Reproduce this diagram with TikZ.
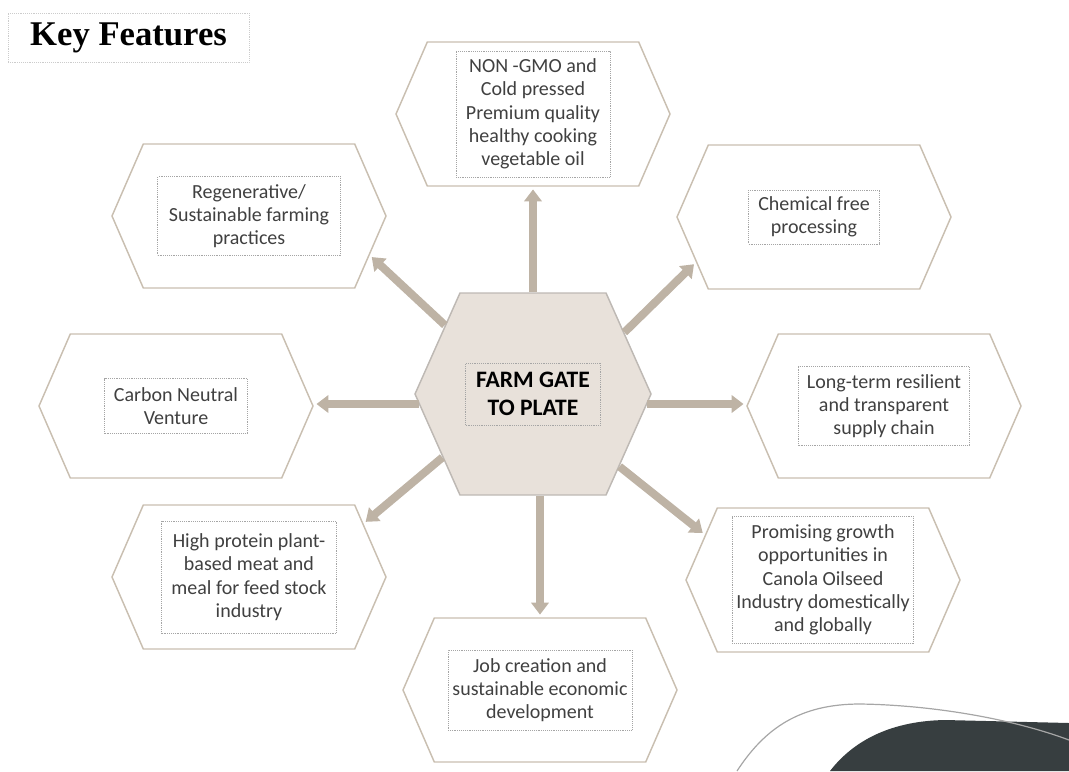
\documentclass[tikz,border=0pt]{standalone}
\usepackage{fontspec}
\setmainfont{Carlito}
\newfontfamily\titlefont{Liberation Serif}
\usetikzlibrary{shapes.symbols,arrows.meta}
\definecolor{hexline}{RGB}{201,191,177}
\definecolor{hexfill}{RGB}{232,225,218}
\definecolor{hexedge}{RGB}{190,185,180}
\definecolor{arrowtan}{RGB}{190,179,165}
\definecolor{boxdots}{RGB}{165,165,165}
\definecolor{feattext}{RGB}{64,64,64}
\definecolor{slate}{RGB}{55,62,64}

\begin{document}
\begin{tikzpicture}[x=0.75pt,y=-0.75pt,
  hexa/.style={signal,signal to=west and east,signal pointer angle=133,draw=hexline,line width=1.1pt,minimum width=205.5pt,minimum height=108pt,inner sep=0pt},
  tbox/.style={draw=boxdots,densely dotted,line width=0.4pt,align=center,inner sep=0pt,text=feattext,font=\fontsize{15}{17.5}\selectfont},
  spoke/.style={draw=arrowtan,line width=6pt,-{Triangle[width=13pt,length=9pt]},shorten >=2pt}]
\useasboundingbox (0,0) rectangle (1069,771);

\node[draw=gray!40,densely dotted,minimum width=180.75pt,minimum height=36.75pt,font=\titlefont\bfseries\fontsize{26}{30}\selectfont] (title) at (128.5,37.5) {Key Features};

\node[hexa,fill=hexfill,draw=hexedge,minimum width=177pt,minimum height=151.5pt,signal pointer angle=132] (ctr) at (533,394) {};
\node[tbox,text=black,font=\bfseries\fontsize{17.7}{21}\selectfont,minimum width=101pt,minimum height=46.5pt] (ctr-t) at (ctr) {FARM GATE\\TO PLATE};

\node[hexa] (top) at (533,114) {};
\node[tbox,minimum width=115.5pt,minimum height=94.5pt] (top-t) at (top) {NON -GMO and\\Cold pressed\\Premium quality\\healthy cooking\\vegetable oil};

\node[hexa] (reg) at (249,216) {};
\node[tbox,minimum width=137pt,minimum height=59pt] (reg-t) at (reg) {Regenerative/\\Sustainable farming\\practices};

\node[hexa] (chem) at (814,217) {};
\node[tbox,minimum width=98pt,minimum height=40.5pt] (chem-t) at (chem) {Chemical free\\processing};

\node[hexa] (carb) at (176,406) {};
\node[tbox,minimum width=107pt,minimum height=41pt] (carb-t) at (carb) {Carbon Neutral\\Venture};

\node[hexa] (long) at (884,406) {};
\node[tbox,minimum width=128pt,minimum height=59pt] (long-t) at (long) {Long-term resilient\\and transparent\\supply chain};

\node[hexa] (prot) at (249,577) {};
\node[tbox,minimum width=131pt,minimum height=84pt] (prot-t) at (prot) {High protein plant-\\based meat and\\meal for feed stock\\industry};

\node[hexa] (prom) at (823,580) {};
\node[tbox,minimum width=136pt,minimum height=95pt] (prom-t) at (prom) {Promising growth\\opportunities in\\Canola Oilseed\\Industry domestically\\and globally};

\node[hexa] (job) at (540,690) {};
\node[tbox,minimum width=138pt,minimum height=60pt] (job-t) at (job) {Job creation and\\sustainable economic\\development};

\draw[spoke] (ctr.north -| top) -- (top.south);
\draw[spoke] (ctr.142) -- (reg.-18);
\draw[spoke] (ctr.34) -- (chem.-159);
\draw[spoke] (ctr.185) -- (ctr.185 -| carb.east);
\draw[spoke] (ctr.-5) -- (ctr.-5 -| long.west);
\draw[spoke] (ctr.215) -- (prot.25);
\draw[spoke] (ctr.-40) -- (prom.159);
\draw[spoke] (ctr.south -| job) -- (job.north);

\fill[slate] (830,771) .. controls (850,745) and (885,721) .. (945,720) -- (1069,723) -- (1069,771) -- cycle;
\draw[gray!70,line width=0.9pt] (737,771) .. controls (765,728) and (800,704) .. (860,704) .. controls (930,705) and (1010,718) .. (1069,740);
\end{tikzpicture}
\end{document}
